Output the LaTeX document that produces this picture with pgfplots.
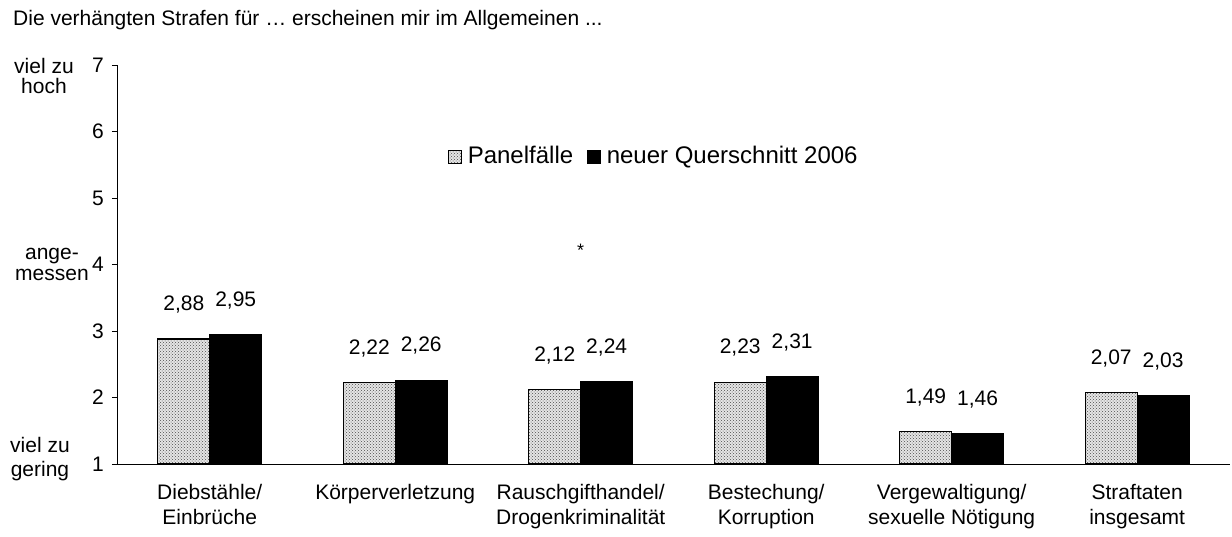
\documentclass[border=0pt]{standalone}
\usepackage{pgfplots}
\pgfplotsset{compat=1.18}
\usepackage{fontspec}
\setmainfont{Liberation Sans}
\usetikzlibrary{patterns}
\begin{document}
\fontsize{21}{25}\selectfont
\begin{tikzpicture}[x=1pt,y=1pt]
\path[use as bounding box] (-117,-72) rectangle (1115,464);
\begin{axis}[
  at={(0,0)}, anchor=south west,
  scale only axis, width=1113pt, height=399pt,
  ymin=1, ymax=7, xmin=-0.5, xmax=5.5,
  axis lines*=left,
  axis line style={black, line width=0.8pt},
  ytick={1,...,7},
  tick align=outside, major tick length=5pt,
  tick style={black, line width=0.8pt},
  xtick={0,...,5},
  major x tick style={draw=none},
  extra x ticks={-0.5,0.5,1.5,2.5,3.5,4.5,5.5},
  extra x tick labels={},
  extra x tick style={major tick length=5pt, tick style={black,line width=0.8pt}},
  xticklabels={{Diebstähle/\\Einbrüche},{Körperverletzung},{Rauschgifthandel/\\Drogenkriminalität},{Bestechung/\\Korruption},{Vergewaltigung/\\sexuelle Nötigung},{Straftaten\\insgesamt}},
  x tick label style={align=center, yshift=-8pt, font=\fontsize{21}{25}\selectfont},
  y tick label style={font=\fontsize{21}{25}\selectfont, xshift=-1pt},
  /pgf/number format/assume math mode=true,
  ybar, bar width=0.28,
  nodes near coords={\pgfmathprintnumber[use comma,fixed,fixed zerofill,precision=2,assume math mode=true]{\pgfplotspointmeta}},
  nodes near coords style={font=\fontsize{21}{25}\selectfont, yshift=18pt, text=black},
  legend style={at={(0.482,0.77)}, anchor=center, draw=none, fill=none,
    legend columns=2, font=\fontsize{24}{27}\selectfont,
    nodes={inner xsep=1pt},
    /tikz/every odd column/.append style={column sep=5pt},
    /tikz/every even column/.append style={column sep=13pt}},
  legend image code/.code={\draw[#1, line width=0.6pt] (0pt,-6.5pt) rectangle (13pt,6.5pt);},
  clip=false,
]
\addplot[bar shift=-0.14, draw=black, line width=1.2pt, fill=gray!20,
  postaction={pattern=crosshatch dots, pattern color=black!70}]
  coordinates {(0,2.88) (1,2.22) (2,2.12) (3,2.23) (4,1.49) (5,2.07)};
\addlegendentry{Panelfälle}
\addplot[bar shift=0.14, draw=black, line width=1.2pt, fill=black]
  coordinates {(0,2.95) (1,2.26) (2,2.24) (3,2.31) (4,1.46) (5,2.03)};
\addlegendentry{neuer Querschnitt 2006}
\node[font=\fontsize{18}{20}\selectfont] at (axis cs:2,4.22) {*};
\node[align=center, font=\fontsize{21}{20}\selectfont] at ([xshift=-73pt]axis cs:-0.5,6.84) {viel zu\\hoch};
\node[align=center, font=\fontsize{21}{21}\selectfont] at ([xshift=-65pt]axis cs:-0.5,4.0) {ange-\\messen};
\node[align=center, font=\fontsize{21}{24}\selectfont] at ([xshift=-77pt]axis cs:-0.5,1.07) {viel zu\\gering};
\node[anchor=west, font=\fontsize{21}{24}\selectfont] at ([xshift=-111pt]axis cs:-0.5,7.68) {Die verhängten Strafen für … erscheinen mir im Allgemeinen ...};
\end{axis}
\end{tikzpicture}
\end{document}
